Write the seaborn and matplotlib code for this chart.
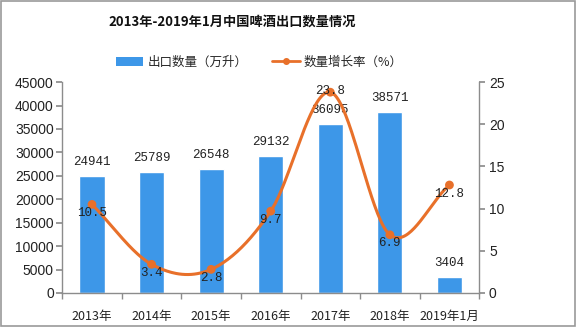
import numpy as np
import pandas as pd
import matplotlib
matplotlib.use("Agg")
import matplotlib.pyplot as plt
import seaborn as sns
from matplotlib.lines import Line2D
from matplotlib.patches import Patch, Rectangle

categories = ["2013年", "2014年", "2015年", "2016年", "2017年", "2018年", "2019年1月"]
export_volume = [24941, 25789, 26548, 29132, 36095, 38571, 3404]
growth_rate = [10.5, 3.4, 2.8, 9.7, 23.8, 6.9, 12.8]

sns.set_theme(style="white")
plt.rcParams["font.family"] = ["Noto Sans CJK SC", "DejaVu Sans"]

BAR_COLOR = "#3d97e8"
LINE_COLOR = "#e8702a"
AXIS_COLOR = "#8c8c8c"

fig = plt.figure(figsize=(5.76, 3.27), dpi=100)
ax = fig.add_axes([0.108, 0.104, 0.724, 0.645])
ax2 = ax.twinx()

df = pd.DataFrame({"年份": categories, "出口数量": export_volume, "增长率": growth_rate})

sns.barplot(data=df, x="年份", y="出口数量", color=BAR_COLOR, width=0.42,
            saturation=1, ax=ax, zorder=2)

ax.set_ylim(0, 45000)
ax.set_yticks(np.arange(0, 45001, 5000))
ax.set_xlim(-0.5, len(categories) - 0.5)
ax.set_xlabel("")
ax.set_ylabel("")

num_font = ["Liberation Mono", "DejaVu Sans Mono"]
for i, v in enumerate(export_volume):
    ax.text(i, v + 1700, str(v), ha="center", va="bottom", fontsize=9,
            family=num_font, color="#222222", zorder=5)

# smooth curve through the growth-rate points (Catmull-Rom spline)
xs = np.arange(len(growth_rate), dtype=float)
ys = np.array(growth_rate, dtype=float)
px = np.concatenate([[2 * xs[0] - xs[1]], xs, [2 * xs[-1] - xs[-2]]])
py = np.concatenate([[2 * ys[0] - ys[1]], ys, [2 * ys[-1] - ys[-2]]])
cx, cy = [], []
t = np.linspace(0, 1, 40)
for k in range(1, len(px) - 2):
    p0, p1, p2, p3 = (np.array([px[j], py[j]]) for j in range(k - 1, k + 3))
    m1 = (p2 - p0) / 2
    m2 = (p3 - p1) / 2
    h00 = 2 * t**3 - 3 * t**2 + 1
    h10 = t**3 - 2 * t**2 + t
    h01 = -2 * t**3 + 3 * t**2
    h11 = t**3 - t**2
    seg = (np.outer(h00, p1) + np.outer(h10, m1) + np.outer(h01, p2) + np.outer(h11, m2))
    cx.extend(seg[:, 0])
    cy.extend(seg[:, 1])

sns.lineplot(x=cx, y=cy, ax=ax2, color=LINE_COLOR, linewidth=2.2, sort=False, zorder=3)
sns.scatterplot(x=xs, y=ys, ax=ax2, color=LINE_COLOR, s=40, edgecolor="none", zorder=4)
ax2.set_ylim(0, 25)
ax2.set_yticks(np.arange(0, 26, 5))
ax2.set_xlim(-0.5, len(categories) - 0.5)

peak = int(np.argmax(growth_rate))
for i, v in enumerate(growth_rate):
    if i == peak:
        ax2.text(i, v + 0.2, f"{v}", ha="center", va="center", fontsize=9,
                 family=num_font, color="#222222", zorder=5)
    else:
        ax2.text(i, v - 0.3, f"{v}", ha="center", va="top", fontsize=9,
                 family=num_font, color="#222222", zorder=5)

# axes styling
for a in (ax, ax2):
    a.spines["top"].set_visible(False)
    for s in ("left", "right", "bottom"):
        a.spines[s].set_color(AXIS_COLOR)
        a.spines[s].set_linewidth(1.0)
    a.grid(False)
ax.spines["right"].set_visible(False)
ax2.spines["left"].set_visible(False)
ax2.spines["bottom"].set_visible(False)

ax.tick_params(axis="y", left=True, length=4, color=AXIS_COLOR, labelsize=10,
               labelcolor="#222222", pad=2)
ax2.tick_params(axis="y", right=True, length=4, color=AXIS_COLOR, labelsize=10,
                labelcolor="#222222", pad=3)
ax.set_xticks(range(len(categories)))
ax.set_xticklabels(categories, fontsize=9, color="#222222")
ax.set_xticks(np.arange(-0.5, len(categories), 1.0), minor=True)
ax.tick_params(axis="x", which="major", bottom=False, pad=6)
ax.tick_params(axis="x", which="minor", bottom=True, length=4, color=AXIS_COLOR)
for lbl in ax.get_yticklabels() + ax2.get_yticklabels():
    lbl.set_family(["Liberation Sans", "DejaVu Sans"])

fig.text(0.403, 0.933, "2013年-2019年1月中国啤酒出口数量情况", ha="center", va="center",
         fontsize=9.5, fontweight="bold", color="#111111")

handles = [Patch(facecolor=BAR_COLOR, edgecolor="none"),
           Line2D([0], [0], color=LINE_COLOR, lw=2, marker="o", markersize=4)]
fig.legend(handles, ["出口数量（万升）", "数量增长率（%）"], loc="center",
           bbox_to_anchor=(0.45, 0.81), ncol=2, frameon=False, fontsize=9,
           handlelength=2.2, handleheight=0.7, columnspacing=2.0, handletextpad=0.3)

fig.patches.append(Rectangle((0.002, 0.003), 0.996, 0.994, transform=fig.transFigure,
                             fill=False, edgecolor="#9a9a9a", linewidth=1.2))

fig.savefig("out.png", dpi=100)
